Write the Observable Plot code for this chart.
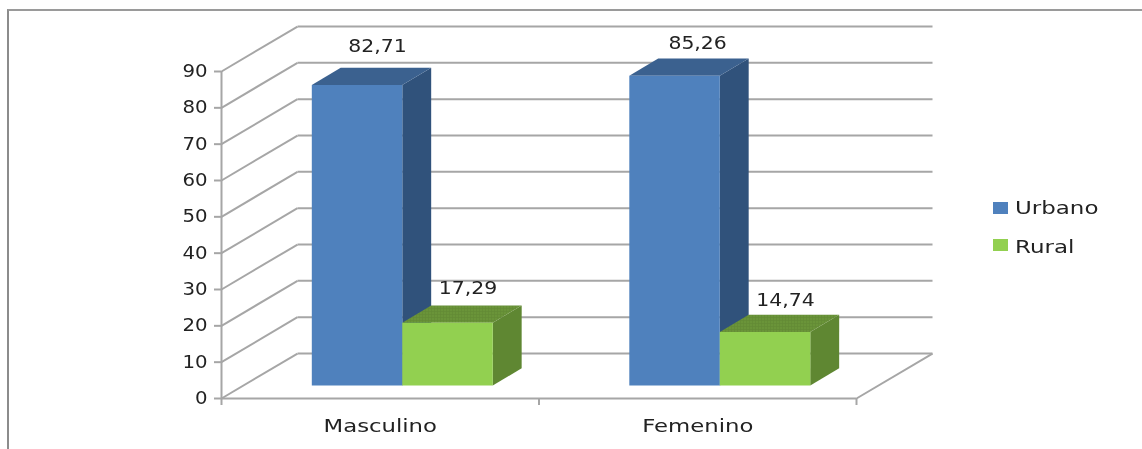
<!DOCTYPE html>
<html>
<head>
<meta charset="utf-8">
<script src="https://cdn.jsdelivr.net/npm/d3@7"></script>
<script src="https://cdn.jsdelivr.net/npm/@observablehq/plot@0.6"></script>
<style>
html,body{margin:0;padding:0;background:#fff;overflow:hidden}
#wrap{position:relative;width:1142px;height:449px;overflow:hidden;font-family:"DejaVu Sans",sans-serif;color:#222}
#frame{position:absolute;left:7px;top:9px;right:-5px;bottom:-5px;border-left:2px solid #8c8c8c;border-top:2px solid #9a9a9a}
#wrap svg{position:absolute;left:0;top:0;filter:blur(0.4px)}
.lg{position:absolute;left:992.5px;width:15.5px;height:11.5px}
.lt{position:absolute;left:1015px;font-size:17px;line-height:20px;transform:scaleX(1.35);transform-origin:left center;white-space:nowrap;filter:blur(0.4px)}
</style>
</head>
<body>
<div id="wrap"><div id="frame"></div></div>
<script>
const categories = ["Masculino", "Femenino"];
const seriesNames = ["Urbano", "Rural"];
const urbano = [82.71, 85.26];
const rural = [17.29, 14.74];
const yTicks = [0, 10, 20, 30, 40, 50, 60, 70, 80, 90];

const seriesValues = [urbano, rural];
const front = ["#4f81bd", "#92d050"];
const side = ["#30527b", "#5f8732"];
const top_ = ["#3b618f", "url(#greenTop)"];
const grid = "#a6a6a6";

// oblique projection: depth d (0 = front of the floor, 1 = back wall)
const depthU = 0.2394, depthV = 12.38;
const px = (u, d) => u + d * depthU;
const py = (v, d) => v + d * depthV;
const barW = 0.285, d0 = 0.29, d1 = 0.67;
const fmt = v => v.toFixed(2).replace(".", ",");
// how far each value label floats above its bar top, per series and category
const labelLift = [[7.1, 5.5], [6, 5.2]];

const faces = [];
seriesValues.forEach((vals, s) => vals.forEach((v, c) => {
  const u0 = c + 0.5 - barW + s * barW, u1 = u0 + barW;
  const add = (face, pts) => pts.forEach(([u, h, d]) =>
    faces.push({s, face, bar: `${c}-${s}-${face}`, x: px(u, d), y: py(h, d)}));
  add("side", [[u1,0,d0],[u1,0,d1],[u1,v,d1],[u1,v,d0]]);
  add("top", [[u0,v,d0],[u1,v,d0],[u1,v,d1],[u0,v,d1]]);
  add("front", [[u0,0,d0],[u1,0,d0],[u1,v,d0],[u0,v,d0]]);
}));
const faceMark = (s, face, fill) => Plot.line(
  faces.filter(f => f.s === s && f.face === face),
  {x: "x", y: "y", z: "bar", fill, stroke: "none", curve: "linear-closed"});

const labels = seriesValues.flatMap((vals, s) => vals.map((v, c) => ({
  x: px(c + 0.5 - barW + s * barW + barW / 2, 0.56) + (c === 1 && s === 0 ? 0.008 : 0),
  y: py(v, 0.56) + labelLift[s][c],
  text: fmt(v)
})));

const patternDefs = () => {
  const defs = d3.create("svg:defs");
  const p = defs.append("pattern").attr("id", "greenTop").attr("patternUnits", "userSpaceOnUse")
    .attr("width", 3).attr("height", 3);
  p.append("rect").attr("width", 3).attr("height", 3).attr("fill", "#668f36");
  p.append("rect").attr("width", 1).attr("height", 1).attr("fill", "#78a841");
  p.append("rect").attr("x", 1.5).attr("y", 1.5).attr("width", 1).attr("height", 1).attr("fill", "#5a802f");
  return defs.node();
};

const lineOpts = {stroke: grid, strokeWidth: 2};
const chart = Plot.plot({
  width: 1142, height: 449,
  marginLeft: 221, marginRight: 286, marginTop: 71, marginBottom: 51,
  style: {background: "transparent", fontFamily: "DejaVu Sans", overflow: "visible"},
  x: {domain: [0, categories.length], axis: null},
  y: {domain: [0, 90], axis: null},
  marks: [
    patternDefs,
    // back wall
    Plot.link(yTicks, {x1: () => px(0, 1), x2: () => px(2, 1), y1: v => py(v, 1), y2: v => py(v, 1), ...lineOpts}),
    // side wall
    Plot.link(yTicks, {x1: () => px(0, 0), x2: () => px(0, 1), y1: v => py(v, 0), y2: v => py(v, 1), ...lineOpts}),
    // floor
    Plot.link([0], {x1: () => px(2, 0), x2: () => px(2, 1), y1: () => py(0, 0), y2: () => py(0, 1), ...lineOpts}),
    Plot.ruleY([0], {...lineOpts}),
    Plot.ruleX([0], {y1: 0, y2: 90, ...lineOpts}),
    Plot.axisY({ticks: yTicks, tickSize: 7, tickPadding: 7, stroke: grid, strokeWidth: 2, fontSize: 17, fill: "#222", className: "stretchNum", label: null, anchor: "left"}),
    Plot.axisX({ticks: [0, 1, 2], tickSize: 7, tickFormat: () => "", stroke: grid, strokeWidth: 2, label: null}),
    Plot.axisX({ticks: [0.5, 1.5], tickSize: 0, tickPadding: 21, tickFormat: d => categories[d - 0.5], fontSize: 17, fill: "#222", className: "stretchCat", label: null}),
    ...[0, 1].flatMap(s => [
      faceMark(s, "side", side[s]),
      faceMark(s, "top", top_[s]),
      faceMark(s, "front", front[s])
    ]),
    Plot.text(labels, {x: "x", y: "y", text: "text", fontSize: 17, fill: "#222", className: "stretchLab"})
  ]
});

const wrap = document.getElementById("wrap");
wrap.appendChild(chart);

const stretch = (cls, k) => chart.querySelectorAll(`.${cls} text, text.${cls}`).forEach(t => {
  t.setAttribute("textLength", t.getComputedTextLength() * k);
  t.setAttribute("lengthAdjust", "spacingAndGlyphs");
});
stretch("stretchNum", 1.16);
stretch("stretchCat", 1.34);
stretch("stretchLab", 1.2);

// legend
seriesNames.forEach((name, i) => {
  const sq = document.createElement("div");
  sq.className = "lg";
  sq.style.top = (202 + i * 37) + "px";
  sq.style.background = front[i];
  wrap.appendChild(sq);
  const t = document.createElement("div");
  t.className = "lt";
  t.style.top = (198 + i * 39) + "px";
  t.textContent = name;
  wrap.appendChild(t);
});
</script>
</body>
</html>
